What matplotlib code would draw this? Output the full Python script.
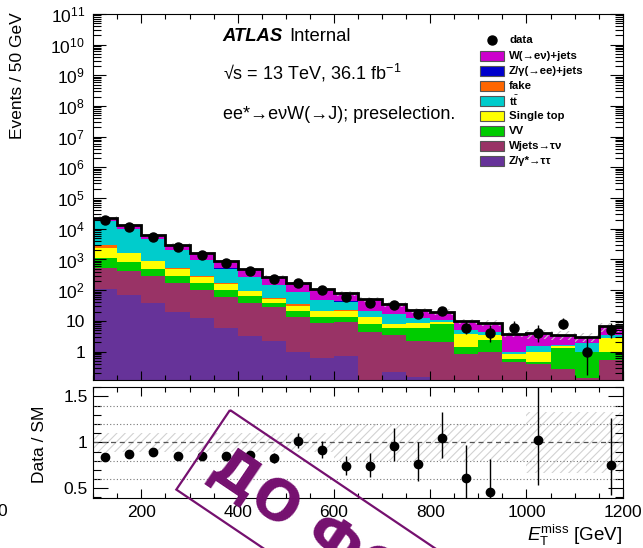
import math
import numpy as np
import matplotlib
matplotlib.use("Agg")
import matplotlib.pyplot as plt
from matplotlib.patches import Rectangle, Polygon
from matplotlib.lines import Line2D
from matplotlib.ticker import LogLocator, MultipleLocator, FixedLocator, FuncFormatter, NullFormatter

plt.rcParams["font.family"] = ["Liberation Sans", "DejaVu Sans"]
plt.rcParams["mathtext.fontset"] = "custom"
plt.rcParams["mathtext.rm"] = "Liberation Sans"
plt.rcParams["mathtext.it"] = "Liberation Sans:italic"
plt.rcParams["mathtext.bf"] = "Liberation Sans:bold"
plt.rcParams["hatch.linewidth"] = 0.8

# MET binning, 50 GeV bins
edges = [100, 150, 200, 250, 300, 350, 400, 450, 500, 550, 600, 650,
         700, 750, 800, 850, 900, 950, 1000, 1050, 1100, 1150, 1200]

# background predictions per bin (stack order: bottom first)
z_tautau = [112, 72, 39, 20, 12, 5.8, 3.2, 2.2, 1.0, 0.6, 0.7, 0.08,
            0.21, 0.15, 0.08, 0.02, 0.02, 0.0, 0.0, 0.0, 0.0, 0.0]
w_taunu = [400, 345, 249, 146, 88, 56, 34, 25.3, 12.5, 7.7, 8.7, 4.17,
           3.24, 2.05, 1.91, 0.79, 0.97, 0.46, 0.38, 0.26, 0.14, 0.52]
diboson = [635, 434, 202, 122, 66, 38, 25, 11.5, 7.4, 5.2, 4.2, 3.65,
           2.53, 3.49, 5.7, 0.63, 1.38, 0.13, 0.08, 1.0, 0.85, 0.46]
single_top = [1196, 734, 401, 191, 109, 58, 31, 13.5, 10, 7.4, 7.3, 5.1,
              1.71, 2.6, 1.7, 2.28, 1.08, 0.23, 0.52, 0.24, 0.0, 1.7]
fake = [607, 75, 21, 34, 7, 8, 2, 1.2, 4.6, 0.5, 1.6, 0.05,
        0.18, 0.05, 0.02, 0.02, 0.01, 0.0, 0.0, 0.0, 0.0, 0.0]
ttbar = [15500, 7850, 3740, 1510, 660, 340, 164, 92, 52, 25.5, 19.5, 7.8,
         8.4, 3.7, 1.2, 1.28, 0.97, 0.11, 0.52, 0.12, 0.86, 0.76]
z_ee = [50, 40, 30, 20, 13, 7, 4, 2.5, 1.5, 1.0, 0.7, 0.1,
        0.1, 0.1, 0.05, 0.05, 0.05, 0.02, 0.02, 0.02, 0.02, 0.02]
w_enu = [4500, 3250, 1528, 1027, 679, 362, 227, 130, 83, 62, 35.3, 29,
         19, 10, 9.3, 4.8, 4.3, 2.7, 2.4, 1.8, 1.2, 3.15]

data = [19300, 11150, 5530, 2610, 1397, 748, 421, 231, 175, 101, 58, 37,
        34, 17, 21, 6, 4, 6, 4, 8, 1, 5]

# relative systematic uncertainty on the total background
syst = [0.1, 0.1, 0.1, 0.1, 0.1, 0.1, 0.1, 0.1, 0.1, 0.1, 0.2, 0.2,
        0.2, 0.2, 0.2, 0.2, 0.2, 0.2, 0.33, 0.33, 0.33, 0.33]

samples = {
    "ztt": ("Z/γ*→ττ", z_tautau, "#663399"),
    "wtn": ("Wjets→τν", w_taunu, "#993366"),
    "vv": ("VV", diboson, "#00cc00"),
    "st": ("Single top", single_top, "#ffff00"),
    "fake": ("fake", fake, "#ff6600"),
    "tt": (r"$\mathbf{t}\bar{\mathbf{t}}$", ttbar, "#00cccc"),
    "zee": ("Z/γ(→ee)+jets", z_ee, "#0000cc"),
    "wen": ("W(→eν)+jets", w_enu, "#cc00cc"),
}
stack_order = ["ztt", "wtn", "vv", "st", "fake", "tt", "zee", "wen"]
legend_order = ["wen", "zee", "fake", "tt", "st", "vv", "wtn", "ztt"]


def poisson_errors(n, alpha=0.15866):
    # Garwood interval, falls back to sqrt(n) for large counts
    if n > 200:
        return math.sqrt(n), math.sqrt(n)

    def cdf(k, mu):
        return sum(math.exp(i * math.log(mu) - mu - math.lgamma(i + 1)) for i in range(k + 1))

    lo = 0.0
    if n > 0:
        a, b = 1e-6, float(n)
        for _ in range(60):
            m = 0.5 * (a + b)
            if 1 - cdf(n - 1, m) < alpha:
                a = m
            else:
                b = m
        lo = 0.5 * (a + b)
    a, b = float(n) + 1e-6, n + 10 * math.sqrt(n) + 10
    for _ in range(60):
        m = 0.5 * (a + b)
        if cdf(n, m) > alpha:
            a = m
        else:
            b = m
    hi = 0.5 * (a + b)
    return n - lo, hi - n


W, H = 643, 548


def fx(x):
    return x / W


def fy(y):
    return 1 - y / H


fig = plt.figure(figsize=(W / 100, H / 100), dpi=100)
ax = fig.add_axes([fx(93.3), fy(380), (622.7 - 93.3) / W, (380 - 14) / H])
axr = fig.add_axes([fx(93.3), fy(498.3), (622.7 - 93.3) / W, (498.3 - 387.3) / H])

edges_a = np.array(edges, dtype=float)
centers = 0.5 * (edges_a[1:] + edges_a[:-1])
data_a = np.array(data, dtype=float)

# stacked backgrounds
base = np.zeros(len(data))
for key in stack_order:
    label, vals, col = samples[key]
    top = base + np.array(vals, dtype=float)
    ax.stairs(top, edges_a, baseline=np.maximum(base, 1e-3), fill=True,
              color=col, lw=0)
    base = top
total = base

syst_a = np.array(syst)
ax.stairs(total * (1 + syst_a), edges_a, baseline=total * (1 - syst_a), fill=True,
          facecolor="none", edgecolor="#c4c4c4", hatch="////", lw=0)
ax.stairs(total, edges_a, color="black", lw=2.0)

errs = np.array([poisson_errors(int(n)) for n in data])
ax.errorbar(centers, data_a, yerr=errs.T, fmt="o", color="black", ms=6.5,
            elinewidth=1.0, capsize=0, zorder=5)

ax.set_yscale("log")
ax.set_xlim(100, 1200)
ax.set_ylim(0.118, 1e11)
ax.yaxis.set_major_locator(LogLocator(base=10, numticks=20))
ax.yaxis.set_minor_locator(LogLocator(base=10, subs=np.arange(2, 10), numticks=200))


def decade_label(v, pos):
    e = int(round(math.log10(v)))
    if e == 0:
        return "1"
    if e == 1:
        return "10"
    return r"$10^{%d}$" % e


ax.yaxis.set_major_formatter(FuncFormatter(decade_label))
ax.yaxis.set_minor_formatter(NullFormatter())
ax.xaxis.set_major_locator(MultipleLocator(200))
ax.xaxis.set_minor_locator(MultipleLocator(50))
ax.tick_params(axis="x", labelbottom=False)

for a in (ax, axr):
    a.tick_params(which="both", direction="in", top=True, right=True,
                  width=0.8, labelsize=12.5, colors="black")
    for s in a.spines.values():
        s.set_linewidth(0.8)
ax.tick_params(axis="y", which="major", length=9.5, pad=6)
ax.tick_params(axis="y", which="minor", length=6)
ax.tick_params(axis="x", which="major", length=6.5)
ax.tick_params(axis="x", which="minor", length=3.3)

# ratio panel
ratio = data_a / total
rerr = errs / total[:, None]
axr.stairs(1 + syst_a, edges_a, baseline=1 - syst_a, fill=True,
           facecolor="none", edgecolor="#d2d2d2", hatch="////", lw=0)
for v in (0.6, 0.8, 1.2, 1.4):
    axr.axhline(v, ls=(0, (1, 2)), color="#777777", lw=0.8)
axr.axhline(1.0, ls=(0, (4, 3)), color="#555555", lw=0.9)
show = (ratio > 0.39) & (ratio < 1.6)
axr.errorbar(centers[show], ratio[show], yerr=rerr[show].T, fmt="o", color="black",
             ms=6, elinewidth=1.0, capsize=0, zorder=5)
axr.set_xlim(100, 1200)
axr.set_ylim(0.39, 1.6)
axr.yaxis.set_major_locator(FixedLocator([0.5, 1.0, 1.5]))
axr.yaxis.set_minor_locator(MultipleLocator(0.1))
axr.yaxis.set_major_formatter(FuncFormatter(lambda v, p: "%g" % v))
axr.xaxis.set_major_locator(MultipleLocator(200))
axr.xaxis.set_minor_locator(MultipleLocator(50))
axr.tick_params(axis="y", which="major", length=11, pad=4)
axr.tick_params(axis="y", which="minor", length=6)
axr.tick_params(axis="x", which="major", length=6.5, pad=5)
axr.tick_params(axis="x", which="minor", length=3.3)

# axis titles
fig.text(fx(18), fy(12), "Events / 50 GeV", rotation=90, ha="center", va="top", fontsize=12.5)
fig.text(fx(40), fy(444), "Data / SM", rotation=90, ha="center", va="center", fontsize=12.5)
fig.text(fx(622), fy(535), r"$E_{\mathrm{T}}^{\mathrm{miss}}$ [GeV]", ha="right",
         va="center", fontsize=13.5)
fig.text(fx(-3), fy(512), "0", ha="left", va="center", fontsize=12.5)

# labels inside the plot
fig.text(fx(222.7), fy(41), "ATLAS", fontsize=13.3, fontweight="bold", style="italic",
         va="baseline")
fig.text(fx(289), fy(41), "Internal", fontsize=13.3, va="baseline")
fig.text(fx(222.7), fy(80), "√s = 13 TeV, 36.1 fb$^{-1}$", fontsize=13, va="baseline")
fig.text(fx(222.7), fy(119), "ee*→eνW(→J); preselection.", fontsize=13, va="baseline")

# legend
fig.add_artist(Line2D([fx(491.5)], [fy(40)], marker="o", color="black", ms=6.5,
                      transform=fig.transFigure))
fig.text(fx(509), fy(40), "data", fontsize=8.2, fontweight="bold", va="center")
row_y = [55.7, 70.7, 85.7, 101, 116, 130.7, 146, 160.7]
for key, yy in zip(legend_order, row_y):
    label, vals, col = samples[key]
    fig.add_artist(Rectangle((fx(480), fy(yy + 5)), 24 / W, 10 / H, transform=fig.transFigure,
                             facecolor=col, edgecolor="#555555", lw=0.8))
    fig.text(fx(509), fy(yy), label, fontsize=8.2, fontweight="bold", va="center")

# stamp
ang = math.radians(34)
u = np.array([math.cos(ang), math.sin(ang)])
v = np.array([-math.sin(ang), math.cos(ang)])
p0 = np.array([230.0, 410.0])
corners = [p0, p0 + 420 * u, p0 + 420 * u + 96 * v, p0 + 96 * v]
stamp_col = "#75106f"
fig.add_artist(Polygon([(fx(c[0]), fy(c[1])) for c in corners], closed=True, fill=False,
                       edgecolor=stamp_col, lw=1.6, transform=fig.transFigure))
tp = p0 + 16 * u + 52 * v
fig.text(fx(tp[0]), fy(tp[1]), "ДО ФОТО", rotation=-34, rotation_mode="anchor",
         ha="left", va="center", fontsize=40, fontweight="bold", color=stamp_col,
         family="DejaVu Sans")

fig.savefig("out.png", dpi=100)
